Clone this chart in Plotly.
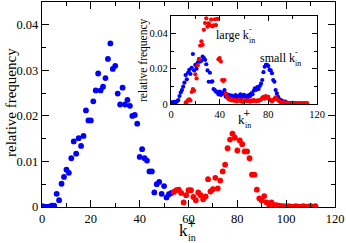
import plotly.graph_objects as go

# ---- main panel data ----
main_blue_k = list(range(0, 54))
main_blue_f = [0.0002, 0.0001, 0.0000, 0.0001, 0.0003, 0.0003, 0.0029, 0.0015, 0.0051, 0.0066,
               0.0082, 0.0075, 0.0107, 0.0144, 0.0117, 0.0151, 0.0134, 0.0156, 0.0212, 0.0190,
               0.0190, 0.0232, 0.0256, 0.0293, 0.0256, 0.0264, 0.0283, 0.0325, 0.0359, 0.0303,
               0.0310, 0.0249, 0.0225, 0.0262, 0.0225, 0.0235, 0.0222, 0.0200, 0.0202, 0.0183,
               0.0110, 0.0127, 0.0107, 0.0102, 0.0078, 0.0078, 0.0032, 0.0050, 0.0055, 0.0029,
               0.0046, 0.0021, 0.0028, 0.0031]

main_red_k = list(range(54, 113))
main_red_f = [0.0033, 0.0037, 0.0038, 0.0031, 0.0010, 0.0026, 0.0037, 0.0037, 0.0022, 0.0015,
              0.0032, 0.0026, 0.0017, 0.0023, 0.0061, 0.0034, 0.0039, 0.0064, 0.0041, 0.0058,
              0.0078, 0.0093, 0.0129, 0.0148, 0.0161, 0.0152, 0.0124, 0.0146, 0.0138, 0.0122,
              0.0122, 0.0107, 0.0071, 0.0071, 0.0038, 0.0019, 0.0014, 0.0024, 0.0010, 0.0005,
              0.0010, 0.0004, 0.0004, 0.0003, 0.0002, 0.0002, 0.0001, 0.0002, 0.0001, 0.0001,
              0.0002, 0.0001, 0.0001, 0.0002, 0.0001, 0.0001, 0.0002, 0.0001, 0.0002]

# ---- inset data ----
inset_blue_k = list(range(0, 96))
inset_blue_f = [0.0008, 0.0010, 0.0009, 0.0012, 0.0011, 0.0015, 0.0022, 0.0045, 0.0065, 0.0079,
                0.0098, 0.0121, 0.0164, 0.0140, 0.0177, 0.0193, 0.0170, 0.0205, 0.0283, 0.0190,
                0.0221, 0.0200, 0.0235, 0.0253, 0.0240, 0.0245, 0.0268, 0.0260, 0.0250, 0.0225,
                0.0190, 0.0126, 0.0177, 0.0126, 0.0128, 0.0085, 0.0079, 0.0070, 0.0068, 0.0055,
                0.0070, 0.0051, 0.0065, 0.0058, 0.0079, 0.0041, 0.0055, 0.0045, 0.0051, 0.0038,
                0.0048, 0.0035, 0.0041, 0.0050, 0.0038, 0.0045, 0.0041, 0.0055, 0.0035, 0.0048,
                0.0052, 0.0041, 0.0045, 0.0035, 0.0050, 0.0045, 0.0060, 0.0055, 0.0075, 0.0089,
                0.0080, 0.0095, 0.0085, 0.0102, 0.0115, 0.0136, 0.0180, 0.0211, 0.0221, 0.0222,
                0.0215, 0.0193, 0.0190, 0.0174, 0.0136, 0.0126, 0.0079, 0.0060, 0.0041, 0.0027,
                0.0023, 0.0018, 0.0015, 0.0012, 0.0013, 0.0008]

inset_red_k = list(range(12, 113))
inset_red_f = [0.0008, 0.0012, 0.0022, 0.0027, 0.0020, 0.0068, 0.0085, 0.0075, 0.0168, 0.0145,
               0.0220, 0.0255, 0.0330, 0.0355, 0.0335, 0.0420, 0.0458, 0.0485, 0.0438, 0.0457,
               0.0445, 0.0478, 0.0440, 0.0445, 0.0480, 0.0447, 0.0482, 0.0253, 0.0260, 0.0240,
               0.0136, 0.0130, 0.0136, 0.0060, 0.0040, 0.0030, 0.0025, 0.0028, 0.0020, 0.0025,
               0.0018, 0.0022, 0.0015, 0.0020, 0.0024, 0.0016, 0.0020, 0.0012, 0.0018, 0.0022,
               0.0015, 0.0020, 0.0017, 0.0013, 0.0020, 0.0016, 0.0022, 0.0018, 0.0015, 0.0020,
               0.0017, 0.0022, 0.0025, 0.0035, 0.0041, 0.0030, 0.0045, 0.0035, 0.0040, 0.0025,
               0.0020, 0.0015, 0.0022, 0.0030, 0.0038, 0.0028, 0.0022, 0.0015, 0.0012, 0.0010,
               0.0008, 0.0010, 0.0007, 0.0008, 0.0006, 0.0007, 0.0005, 0.0006, 0.0005, 0.0006,
               0.0005, 0.0004, 0.0005, 0.0004, 0.0005, 0.0004, 0.0005, 0.0004, 0.0005, 0.0004,
               0.0005]

BLUE = "#0000ff"
RED = "#ff0000"
FONT = "Liberation Serif"

W, H = 346, 243
ML, MR, MT, MB = 42, 11, 2, 36
PW, PH = W - ML - MR, H - MT - MB


def px(x):
    return (x - ML) / PW


def py(y):
    return (H - MB - y) / PH


fig = go.Figure()
fig.add_trace(go.Scatter(x=main_blue_k, y=main_blue_f, mode="markers",
                         marker=dict(color=BLUE, size=5.8), xaxis="x", yaxis="y"))
fig.add_trace(go.Scatter(x=main_red_k, y=main_red_f, mode="markers",
                         marker=dict(color=RED, size=5.8), xaxis="x", yaxis="y"))
fig.add_trace(go.Scatter(x=inset_blue_k, y=inset_blue_f, mode="markers",
                         marker=dict(color=BLUE, size=4.2), xaxis="x2", yaxis="y2"))
fig.add_trace(go.Scatter(x=inset_red_k, y=inset_red_f, mode="markers",
                         marker=dict(color=RED, size=4.2), xaxis="x2", yaxis="y2"))

axis_common = dict(showgrid=False, zeroline=False, showline=True, linecolor="black",
                   linewidth=1.3, mirror="ticks", ticks="inside", tickcolor="black",
                   tickwidth=1.1, automargin=False)

# inset domain from pixel positions
ix0, ix1 = px(171), px(317)
iy0, iy1 = py(104), py(15.7)

fig.update_layout(
    width=W, height=H,
    margin=dict(l=ML, r=MR, t=MT, b=MB, autoexpand=False),
    paper_bgcolor="white", plot_bgcolor="white",
    showlegend=False,
    font=dict(family=FONT, color="black"),
    xaxis=dict(range=[0, 120], dtick=20, ticklen=7,
               minor=dict(dtick=10, ticklen=4, ticks="inside", tickcolor="black"),
               tickfont=dict(size=12.5, family=FONT), **axis_common),
    yaxis=dict(range=[0, 0.045], dtick=0.01, ticklen=7,
               minor=dict(dtick=0.005, ticklen=4, ticks="inside", tickcolor="black"),
               tickfont=dict(size=12.5, family=FONT), **axis_common),
    xaxis2=dict(domain=[ix0, ix1], anchor="y2", range=[0, 120], dtick=40, ticklen=5,
                minor=dict(dtick=20, ticklen=3, ticks="inside", tickcolor="black"),
                tickfont=dict(size=10.5, family=FONT), **axis_common),
    yaxis2=dict(domain=[iy0, iy1], anchor="x2", range=[0, 0.05], dtick=0.02, ticklen=5,
                minor=dict(dtick=0.01, ticklen=3, ticks="inside", tickcolor="black"),
                tickfont=dict(size=10.5, family=FONT), **axis_common),
)

ann = []


def label(x, y, text, size, family=FONT, **kw):
    ann.append(dict(x=px(x), y=py(y), xref="paper", yref="paper", text=text,
                    xanchor="center", yanchor="middle",
                    showarrow=False, font=dict(family=family, size=size, color="black"), **kw))


PLUS = "&#43;"

# main axis titles
label(11, 103, "relative frequency", 15, textangle=-90)
label(183, 230, "k", 17)
label(191.5, 223, PLUS, 11, family="DejaVu Serif")
label(192, 238, "in", 10)
# inset axis titles
label(143, 60, "relative frequency", 11.5, textangle=-90)
label(241.5, 119, "k", 13)
label(247, 113, PLUS, 9, family="DejaVu Serif")
label(248, 125, "in", 8)
# inset annotations
label(232, 35, "large k", 12)
label(250.5, 29, "-", 8)
label(252, 40, "in", 8)
label(277, 58, "small k", 12)
label(296.5, 52, "-", 8)
label(298, 63, "in", 8)

fig.update_layout(annotations=ann)
fig.write_html("out.html", config={"displayModeBar": False},
               post_script="document.body.style.margin='0';document.body.style.padding='0';")
